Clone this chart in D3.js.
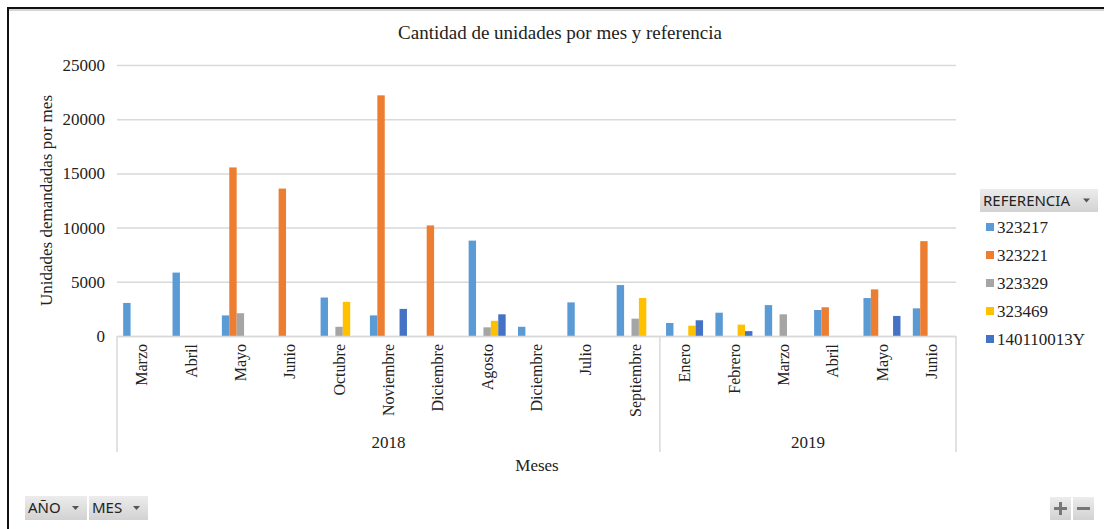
<!DOCTYPE html>
<html>
<head>
<meta charset="utf-8">
<script src="https://cdn.jsdelivr.net/npm/d3@7"></script>
<style>
  body { margin: 0; background: #fff; }
  svg { display: block; }
</style>
</head>
<body>
<svg class="chart"></svg>
<script>
// data
const months = ["Marzo", "Abril", "Mayo", "Junio", "Octubre", "Noviembre", "Diciembre", "Agosto",
  "Diciembre", "Julio", "Septiembre", "Enero", "Febrero", "Marzo", "Abril", "Mayo", "Junio"];
const years = ["2018", "2018", "2018", "2018", "2018", "2018", "2018", "2018",
  "2018", "2018", "2018", "2019", "2019", "2019", "2019", "2019", "2019"];
const seriesNames = ["323217", "323221", "323329", "323469", "140110013Y"];
const s323217 = [3050, 5850, 1900, 0, 3550, 1900, 0, 8800, 850, 3100, 4700, 1200, 2150, 2850, 2400, 3500, 2550];
const s323221 = [0, 0, 15550, 13600, 0, 22200, 10200, 0, 0, 0, 0, 0, 0, 0, 2650, 4300, 8750];
const s323329 = [0, 0, 2100, 0, 850, 0, 0, 800, 0, 0, 1600, 0, 0, 2000, 0, 0, 0];
const s323469 = [0, 0, 0, 0, 3150, 0, 0, 1400, 0, 0, 3500, 950, 1050, 0, 0, 0, 0];
const s140110013Y = [0, 0, 0, 0, 0, 2500, 0, 2000, 0, 0, 0, 1450, 450, 0, 0, 1850, 0];
const yTicks = [0, 5000, 10000, 15000, 20000, 25000];

const seriesValues = [s323217, s323221, s323329, s323469, s140110013Y];
const colors = ["#5B9BD5", "#ED7D31", "#A5A5A5", "#FFC000", "#4472C4"];

const width = 1104, height = 529;
const plotLeft = 117, plotRight = 956, plotTop = 65, plotBottom = 336;
const serif = "'Liberation Serif', 'Times New Roman', serif";
const sans = "'Noto Sans', 'Open Sans', sans-serif";

const svg = d3.select(".chart").attr("width", width).attr("height", height);

const defs = svg.append("defs");
const grad = defs.append("linearGradient").attr("id", "btn").attr("x1", 0).attr("y1", 0).attr("x2", 0).attr("y2", 1);
grad.append("stop").attr("offset", "0%").attr("stop-color", "#ececec");
grad.append("stop").attr("offset", "100%").attr("stop-color", "#d2d2d2");

// outer frame
svg.append("rect").attr("x", 8).attr("y", 8).attr("width", width + 20).attr("height", height + 20)
  .attr("fill", "none").attr("stroke", "#111").attr("stroke-width", 2);
svg.append("line").attr("x1", 9).attr("x2", width).attr("y1", 10).attr("y2", 10)
  .attr("stroke", "#aaa").attr("stroke-width", 1);

const keys = months.map((m, i) => years[i] + "-" + i);
const x0 = d3.scaleBand().domain(keys).range([plotLeft, plotRight]);
const bw = x0.bandwidth();
const groupW = bw * 0.75;
const x1 = d3.scaleBand().domain(seriesNames).range([(bw - groupW) / 2, (bw + groupW) / 2]);
const y = d3.scaleLinear().domain([0, 25000]).range([plotBottom, plotTop]);

// gridlines
svg.append("g").selectAll("line").data(yTicks).enter().append("line")
  .attr("x1", plotLeft).attr("x2", plotRight)
  .attr("y1", d => y(d) + 0.5).attr("y2", d => y(d) + 0.5)
  .attr("stroke", "#d9d9d9").attr("stroke-width", 1.5);

// y axis labels
const yAxis = svg.append("g").attr("transform", `translate(${plotLeft - 12},0)`)
  .call(d3.axisLeft(y).tickValues(yTicks).tickSize(0).tickPadding(0).tickFormat(d3.format("d")));
yAxis.select(".domain").remove();
yAxis.selectAll("text").attr("font-family", serif).attr("font-size", 17).attr("fill", "#222");

// bars
const groups = svg.append("g").selectAll("g").data(keys).enter().append("g")
  .attr("transform", d => `translate(${x0(d)},0)`);
groups.selectAll("rect")
  .data((d, i) => seriesNames.map((s, j) => ({ s, v: seriesValues[j][i], c: colors[j] })).filter(b => b.v > 0))
  .enter().append("rect")
  .attr("x", d => x1(d.s))
  .attr("width", x1.bandwidth())
  .attr("y", d => y(d.v))
  .attr("height", d => y(0) - y(d.v))
  .attr("fill", d => d.c);

// category axis (multi-level)
svg.append("line").attr("x1", plotLeft).attr("x2", plotRight).attr("y1", plotBottom + 0.5).attr("y2", plotBottom + 0.5)
  .attr("stroke", "#d9d9d9").attr("stroke-width", 1.5);
const yearNames = Array.from(new Set(years));
const yearSpans = yearNames.map(yr => {
  const idx = years.map((v, i) => v === yr ? i : -1).filter(i => i >= 0);
  return { yr, a: x0(keys[idx[0]]), b: x0(keys[idx[idx.length - 1]]) + bw };
});
const dividers = [plotLeft].concat(yearSpans.map(d => d.b));
svg.append("g").selectAll("line").data(dividers).enter().append("line")
  .attr("x1", d => d).attr("x2", d => d).attr("y1", plotBottom).attr("y2", 452)
  .attr("stroke", "#d9d9d9").attr("stroke-width", 1.5);

svg.append("g").selectAll("text").data(keys).enter().append("text")
  .attr("transform", d => `translate(${x0(d) + bw / 2},${plotBottom + 8}) rotate(-90)`)
  .attr("text-anchor", "end")
  .attr("dy", "0.35em")
  .attr("font-family", serif).attr("font-size", 16).attr("fill", "#222")
  .text((d, i) => months[i]);

svg.append("g").selectAll("text").data(yearSpans).enter().append("text")
  .attr("x", d => (d.a + d.b) / 2).attr("y", 448)
  .attr("text-anchor", "middle")
  .attr("font-family", serif).attr("font-size", 17).attr("fill", "#222")
  .text(d => d.yr);

// titles
svg.append("text").attr("x", 560).attr("y", 39).attr("text-anchor", "middle")
  .attr("font-family", serif).attr("font-size", 19).attr("fill", "#222")
  .text("Cantidad de unidades por mes y referencia");
svg.append("text").attr("x", 537).attr("y", 471).attr("text-anchor", "middle")
  .attr("font-family", serif).attr("font-size", 17).attr("fill", "#222")
  .text("Meses");
svg.append("text").attr("transform", `translate(46,${(plotTop + plotBottom) / 2}) rotate(-90)`)
  .attr("text-anchor", "middle").attr("dy", "0.35em")
  .attr("font-family", serif).attr("font-size", 17).attr("fill", "#222")
  .text("Unidades demandadas por mes");

// pivot-style buttons
function button(x, yy, w, h, label) {
  const g = svg.append("g").attr("transform", `translate(${x},${yy})`);
  g.append("rect").attr("width", w).attr("height", h).attr("fill", "url(#btn)");
  g.append("text").attr("x", 3).attr("y", h / 2).attr("dy", "0.35em")
    .attr("font-family", sans).attr("font-size", 15).attr("fill", "#222").text(label);
  g.append("path").attr("d", `M${w - 15},${h / 2 - 2} l7,0 l-3.5,4 z`).attr("fill", "#555");
  return g;
}
button(980, 189, 118, 23, "REFERENCIA");
button(25, 496, 62, 24, "AÑO");
button(89, 496, 59, 24, "MES");

// zoom buttons
const zb = svg.append("g").attr("transform", "translate(1050,497)");
zb.append("rect").attr("width", 21).attr("height", 23).attr("fill", "url(#btn)");
zb.append("rect").attr("x", 23).attr("width", 21).attr("height", 23).attr("fill", "url(#btn)");
zb.append("path").attr("d", "M4,11.5 h13 M10.5,5 v13").attr("stroke", "#777").attr("stroke-width", 3);
zb.append("path").attr("d", "M27,11.5 h13").attr("stroke", "#777").attr("stroke-width", 3);

// legend
const legend = svg.append("g").selectAll("g").data(seriesNames).enter().append("g")
  .attr("transform", (d, i) => `translate(986,${227 + i * 28})`);
legend.append("rect").attr("x", 0).attr("y", -4).attr("width", 8).attr("height", 8)
  .attr("fill", (d, i) => colors[i]);
legend.append("text").attr("x", 11).attr("dy", "0.35em")
  .attr("font-family", serif).attr("font-size", 17).attr("fill", "#222")
  .text(d => d);
</script>
</body>
</html>
